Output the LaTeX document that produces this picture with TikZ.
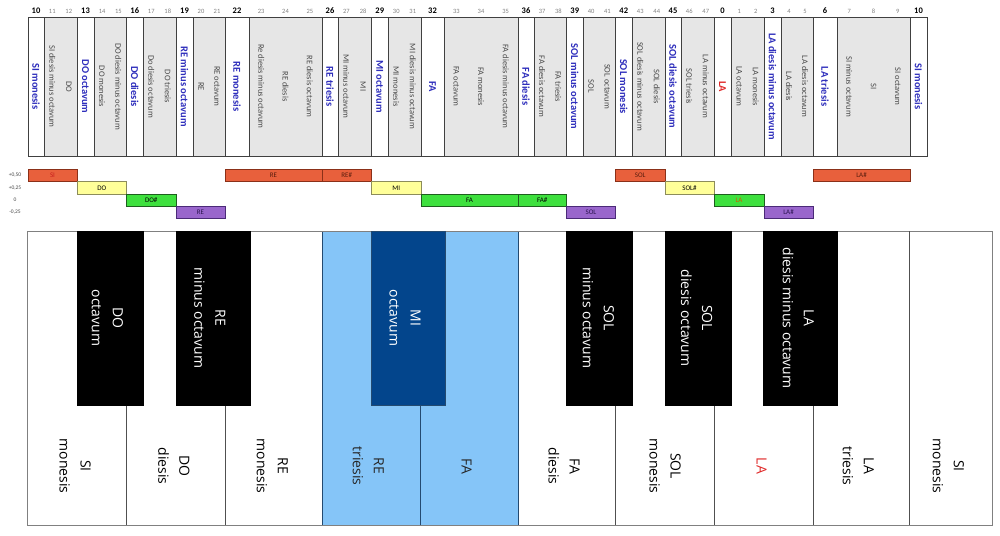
\documentclass[tikz,border=0pt]{standalone}
\usepackage{fontspec}
\setmainfont{Carlito}
\newfontfamily\kbfont{Open Sans}
\definecolor{tgray}{HTML}{E6E6E6}
\definecolor{tborder}{HTML}{404040}
\definecolor{tblue}{HTML}{2E2EBC}
\definecolor{tred}{HTML}{E02828}
\definecolor{ttext}{HTML}{4A4A4A}
\definecolor{tnum}{HTML}{808080}
\definecolor{rfill}{HTML}{E8603C}
\definecolor{rdraw}{HTML}{8B3018}
\definecolor{yfill}{HTML}{FFFF99}
\definecolor{ydraw}{HTML}{8C8C5A}
\definecolor{gfill}{HTML}{3EE03E}
\definecolor{gdraw}{HTML}{1E5E1E}
\definecolor{pfill}{HTML}{9966CC}
\definecolor{pdraw}{HTML}{4B2A78}
\definecolor{rtxt}{HTML}{5A1E0E}
\definecolor{sitxt}{HTML}{C81E1E}
\definecolor{latxt}{HTML}{D05A00}
\definecolor{ptxt}{HTML}{2A1450}
\definecolor{lblue}{HTML}{85C5F8}
\definecolor{dblue}{HTML}{03458C}
\definecolor{navy}{HTML}{244A70}
\definecolor{kbgray}{HTML}{808080}
\definecolor{kbdiv}{HTML}{505050}
\begin{document}
\begin{tikzpicture}[x=1pt,y=-1pt,
  cellbase/.style={draw=tborder,line width=0.9pt,inner sep=0pt,outer sep=0pt,minimum height=139pt},
  wcol/.style={cellbase,fill=white},
  gcol/.style={cellbase,fill=tgray},
  bluelab/.style={font=\bfseries\fontsize{10.5}{12}\selectfont,rotate=-90,inner sep=0pt},
  graylab/.style={font=\fontsize{8.5}{10}\selectfont,text=ttext,rotate=-90,inner sep=0pt},
  bnum/.style={font=\bfseries\fontsize{8.5}{10}\selectfont,inner sep=0pt},
  snum/.style={font=\fontsize{6.5}{8}\selectfont,text=tnum,inner sep=0pt},
  barbase/.style={line width=0.8pt,inner sep=0pt,outer sep=0pt,minimum height=12.3pt,font=\fontsize{7}{8}\selectfont},
  barR/.style={barbase,draw=rdraw,fill=rfill},
  barY/.style={barbase,draw=ydraw,fill=yfill},
  barG/.style={barbase,draw=gdraw,fill=gfill},
  barP/.style={barbase,draw=pdraw,fill=pfill},
  levlab/.style={font=\fontsize{5.5}{7}\selectfont,text=ttext,inner sep=0pt},
  blackkey/.style={fill=black,draw=black,line width=0.5pt,inner sep=0pt,outer sep=0pt,anchor=north west,minimum height=174.7pt},
  kblab/.style={font=\kbfont\fontsize{14}{21}\selectfont,align=center,rotate=-90,inner sep=0pt},
  kbdivider/.style={draw=kbdiv,line width=0.9pt},
]
\useasboundingbox (0,0) rectangle (1000,535);

% ---------- top table: white columns ----------
\foreach \a/\b/\n/\lab/\col [count=\i] in {
  28/44/10/SI monesis/tblue,
  77/94/13/DO octavum/tblue,
  126.5/143/16/DO diesis/tblue,
  176/193/19/RE minus octavum/tblue,
  225/249/22/RE monesis/tblue,
  322/338/26/RE triesis/tblue,
  371.5/388/29/MI octavum/tblue,
  421/444/32/FA/tblue,
  518/534/36/FA diesis/tblue,
  566.5/583/39/SOL minus octavum/tblue,
  615.5/632/42/SOL monesis/tblue,
  665/681/45/SOL diesis octavum/tblue,
  714/731/0/LA/tred,
  764/781/3/LA diesis minus octavum/tblue,
  813/837/6/LA triesis/tblue,
  910/927/10/SI monesis/tblue}{
  \pgfmathsetmacro\w{\b-\a}
  \pgfmathsetmacro\c{(\a+\b)/2}
  \node[wcol,minimum width=\w pt] (w\i) at (\c,86.5) {};
  \node[bluelab,text=\col] (wl\i) at (\c,86.5) {\lab};
  \node[bnum] (wn\i) at (\c,11) {\n};
}

% ---------- gray columns with two steps ----------
\foreach \a/\b/\na/\la/\nb/\lb [count=\i] in {
  44/77/11/SI diesis minus octavum/12/DO,
  94/126.5/14/DO monesis/15/DO diesis minus octavum,
  143/176/17/Do diesis octavum/18/DO triesis,
  193/225/20/RE/21/RE octavum,
  338/371.5/27/MI minus octavum/28/MI,
  388/421/30/MI monesis/31/MI diesis minus octavum,
  534/566.5/37/FA diesis octavum/38/FA triesis,
  583/615.5/40/SOL/41/SOL octavum,
  632/665/43/SOL diesis minus octavum/44/SOL diesis,
  681/714/46/SOL triesis/47/LA minus octavum,
  731/764/1/LA octavum/2/LA monesis,
  781/813/4/LA diesis/5/LA diesis octavum}{
  \pgfmathsetmacro\w{\b-\a}
  \pgfmathsetmacro\c{(\a+\b)/2}
  \pgfmathsetmacro\xa{\a+\w/4}
  \pgfmathsetmacro\xb{\a+3*\w/4}
  \node[gcol,minimum width=\w pt] (g\i) at (\c,86.5) {};
  \node[graylab] (ga\i) at (\xa,86.5) {\la};
  \node[graylab] (gb\i) at (\xb,86.5) {\lb};
  \node[snum] (gna\i) at (\xa,11) {\na};
  \node[snum] (gnb\i) at (\xb,11) {\nb};
}

% ---------- gray columns with three steps ----------
\foreach \a/\b/\na/\la/\nb/\lb/\nc/\lc [count=\i] in {
  249/322/23/Re diesis minus octavum/24/RE diesis/25/RE diesis octavum,
  444/518/33/FA octavum/34/FA monesis/35/FA diesis minus octavum,
  837/910/7/SI minus octavum/8/SI/9/SI octavum}{
  \pgfmathsetmacro\w{\b-\a}
  \pgfmathsetmacro\c{(\a+\b)/2}
  \pgfmathsetmacro\xa{\a+\w/6}
  \pgfmathsetmacro\xc{\a+5*\w/6}
  \node[gcol,minimum width=\w pt] (h\i) at (\c,86.5) {};
  \node[graylab] (ha\i) at (\xa,86.5) {\la};
  \node[graylab] (hb\i) at (\c,86.5) {\lb};
  \node[graylab] (hc\i) at (\xc,86.5) {\lc};
  \node[snum] (hna\i) at (\xa,11) {\na};
  \node[snum] (hnb\i) at (\c,11) {\nb};
  \node[snum] (hnc\i) at (\xc,11) {\nc};
}

% ---------- level labels ----------
\node[levlab] (lev0) at (15,175.5) {+0,50};
\node[levlab] (lev1) at (15,187.8) {+0,25};
\node[levlab] (lev2) at (15,200.1) {0};
\node[levlab] (lev3) at (15,212.4) {-0,25};

% ---------- bars ----------
\foreach \a/\b/\lev/\lab/\sty/\tc [count=\i] in {
  28/77/0/SI/barR/sitxt,
  77/126.5/1/DO/barY/black,
  126.5/176/2/DO\#/barG/black,
  176/225/3/RE/barP/ptxt,
  225/322/0/RE/barR/rtxt,
  322/371.5/0/RE\#/barR/rtxt,
  371.5/421/1/MI/barY/black,
  421/518/2/FA/barG/black,
  518/566.5/2/FA\#/barG/black,
  566.5/615.5/3/SOL/barP/ptxt,
  615.5/665/0/SOL/barR/rtxt,
  665/714/1/SOL\#/barY/black,
  714/764/2/LA/barG/latxt,
  764/813/3/LA\#/barP/ptxt,
  813/910/0/LA\#/barR/rtxt}{
  \pgfmathsetmacro\w{\b-\a}
  \pgfmathsetmacro\c{(\a+\b)/2}
  \pgfmathsetmacro\y{175.5+12.3*\lev}
  \node[\sty,minimum width=\w pt,text=\tc] (bar\i) at (\c,\y) {\lab};
}

% ---------- keyboard ----------
\node[draw=kbgray,fill=white,line width=1pt,inner sep=0pt,outer sep=0pt,anchor=north west,
      minimum width=965pt,minimum height=294pt] (kb) at (27.5,231) {};
\node[fill=lblue,draw=navy,line width=0.9pt,inner sep=0pt,outer sep=0pt,anchor=north west,
      minimum width=196pt,minimum height=294pt] (blue) at (322,231) {};
\draw[draw=kbgray,line width=1pt] (27.5,231) -- (992.5,231);
\draw[draw=kbgray,line width=1pt] (27.5,525) -- (992.5,525);
\draw[kbdivider] (909.5,231) -- (909.5,525);

% lower dividers between white keys
\foreach \x/\c in {126.3/kbdiv,225.3/kbdiv,420.3/navy,615.7/kbdiv,714/kbdiv,813.3/kbdiv}{
  \draw[kbdivider,draw=\c] (\x,405.7) -- (\x,525);
}

% black keys
\node[blackkey,minimum width=66pt] (k1) at (77,231) {};
\node[blackkey,minimum width=74pt] (k2) at (176,231) {};
\node[blackkey,minimum width=74pt,fill=dblue,draw=navy] (k3) at (371,231) {};
\node[blackkey,minimum width=66pt] (k4) at (566,231) {};
\node[blackkey,minimum width=66pt] (k5) at (665,231) {};
\node[blackkey,minimum width=74pt] (k6) at (763.5,231) {};

\node[kblab,text=white] (k1l) at (107.5,318) {DO\\octavum};
\node[kblab,text=white] (k2l) at (209.7,318) {RE\\minus octavum};
\node[kblab,text=white] (k3l) at (405,318) {MI\\octavum};
\node[kblab,text=white] (k4l) at (598.3,318) {SOL\\minus octavum};
\node[kblab,text=white] (k5l) at (696.7,318) {SOL\\diesis octavum};
\node[kblab,text=white] (k6l) at (798.3,318) {LA\\diesis minus octavum};

% white key labels
\node[kblab] (wk1) at (75,466) {SI\\monesis};
\node[kblab] (wk2) at (174,466) {DO\\diesis};
\node[kblab] (wk3) at (272.2,466) {RE\\monesis};
\node[kblab,text=black!85] (wk4) at (368.3,466) {RE\\triesis};
\node[kblab,text=black!85] (wk5) at (466.7,466) {FA};
\node[kblab] (wk6) at (564,466) {FA\\diesis};
\node[kblab] (wk7) at (665,466) {SOL\\monesis};
\node[kblab,text=tred] (wk8) at (761.7,466) {LA};
\node[kblab] (wk9) at (858.3,466) {LA\\triesis};
\node[kblab] (wk10) at (948.3,466) {SI\\monesis};
\end{tikzpicture}
\end{document}
